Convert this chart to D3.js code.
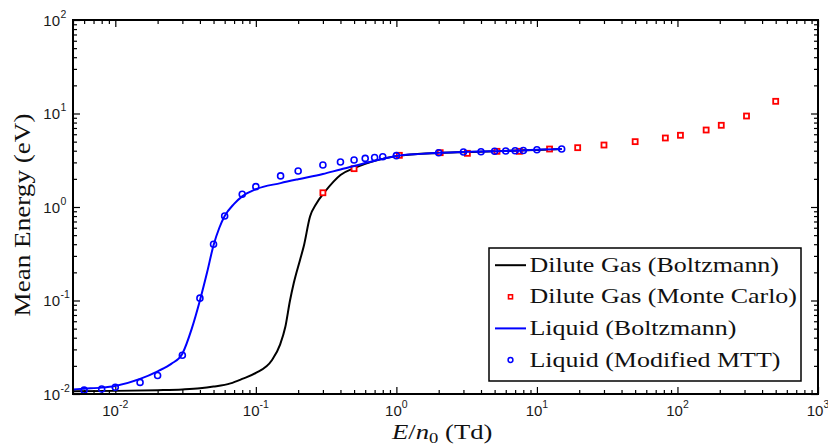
<!DOCTYPE html>
<html>
<head>
<meta charset="utf-8">
<script src="https://cdn.jsdelivr.net/npm/d3@7"></script>
<style>
  body { margin: 0; background: #fff; }
  svg { display: block; }
</style>
</head>
<body>
<svg id="chart" width="828" height="446"></svg>
<script>
// Dilute gas, Boltzmann solution (E/n0 in Td, mean energy in eV)
const gasBoltzE = [0.005, 0.01, 0.02, 0.03, 0.04, 0.05, 0.066, 0.08, 0.1, 0.13, 0.149,
  0.162, 0.175, 0.186, 0.206, 0.219, 0.243, 0.27, 0.306, 0.357, 0.4, 0.5, 0.6, 0.77, 1.0,
  2, 3, 5, 10, 15];
const gasBoltzEnergy = [0.0107, 0.0108, 0.011, 0.0112, 0.0115, 0.012, 0.013, 0.0145, 0.0168, 0.023, 0.034,
  0.052, 0.10, 0.153, 0.27, 0.377, 0.79, 1.09, 1.42, 1.87, 2.2, 2.6, 2.9, 3.23, 3.5,
  3.78, 3.86, 3.94, 4.08, 4.16];

// Dilute gas, Monte Carlo
const gasMcE = [0.3, 0.5, 1.05, 2.05, 3.2, 5.2, 7.5, 12.3, 19.5, 30, 50, 82, 105, 160, 205, 310, 500];
const gasMcEnergy = [1.42, 2.57, 3.57, 3.81, 3.75, 3.94, 3.94, 4.17, 4.31, 4.6, 5.0, 5.47, 5.85, 6.66, 7.48, 9.4, 13.5];

// Liquid, Boltzmann solution
const liqBoltzE = [0.005, 0.006, 0.008, 0.01, 0.015, 0.02, 0.025, 0.03, 0.035, 0.04, 0.045, 0.05,
  0.055, 0.06, 0.07, 0.08, 0.1, 0.15, 0.2, 0.3, 0.4, 0.5, 0.6, 0.7, 0.8, 1.0, 1.5,
  2, 3, 4, 5, 6, 7, 8, 10, 15];
const liqBoltzEnergy = [0.0112, 0.0114, 0.0117, 0.0122, 0.0145, 0.0175, 0.021, 0.027, 0.05, 0.10, 0.2, 0.39,
  0.6, 0.8, 1.08, 1.3, 1.55, 1.8, 1.98, 2.25, 2.52, 2.74, 2.95, 3.12, 3.27, 3.52, 3.70,
  3.80, 3.87, 3.92, 3.95, 3.98, 4.0, 4.03, 4.10, 4.17];

// Liquid, modified momentum-transfer theory
const liqMttE = [0.006, 0.008, 0.01, 0.015, 0.02, 0.03, 0.04, 0.05, 0.06, 0.08, 0.1, 0.15, 0.2,
  0.3, 0.4, 0.5, 0.6, 0.7, 0.8, 1.0, 2, 3, 4, 5, 6, 7, 8, 10, 15];
const liqMttEnergy = [0.011, 0.0113, 0.0118, 0.0133, 0.0158, 0.026, 0.106, 0.40, 0.80, 1.37, 1.65, 2.15, 2.43,
  2.81, 3.03, 3.18, 3.31, 3.39, 3.45, 3.54, 3.81, 3.87, 3.9, 3.94, 3.97, 4.0, 4.02, 4.1, 4.17];

// Axis ranges and tick exponents
const xDomain = [0.005, 1000];
const yDomain = [0.01, 100];
const xTickExps = [-2, -1, 0, 1, 2, 3];
const yTickExps = [-2, -1, 0, 1, 2];

const legendLabels = ["Dilute Gas (Boltzmann)", "Dilute Gas (Monte Carlo)",
  "Liquid (Boltzmann)", "Liquid (Modified MTT)"];

const W = 828, H = 446;
const m = { left: 73, right: 10, top: 20, bottom: 52 };
const svg = d3.select("#chart");

const x = d3.scaleLog().domain(xDomain).range([m.left, W - m.right]);
const y = d3.scaleLog().domain(yDomain).range([H - m.bottom, m.top]);
const x0 = m.left, x1 = W - m.right, y0 = H - m.bottom, y1 = m.top;

const isDecade = v => Math.abs(Math.log10(v) - Math.round(Math.log10(v))) < 1e-9;
const xAll = x.ticks(), yAll = y.ticks();
const xMajor = xAll.filter(isDecade), xMinor = xAll.filter(v => !isDecade(v));
const yMajor = yAll.filter(isDecade), yMinor = yAll.filter(v => !isDecade(v));

const SERIF = "'Liberation Serif', 'Times New Roman', serif";
const SANS = "'Liberation Sans', Arial, sans-serif";
const STRETCH = 1.18;
function widen(sel, k = STRETCH) {
  sel.each(function () {
    const w = this.getComputedTextLength();
    this.setAttribute("textLength", (w * k).toFixed(1));
    this.setAttribute("lengthAdjust", "spacingAndGlyphs");
  });
}

// ---- ticks (inward, on all four sides) ----
function drawAxis(axisFn, pos, values, size) {
  const g = svg.append("g").attr("transform", pos)
    .call(axisFn.tickValues(values).tickSize(size).tickFormat(""));
  g.select(".domain").remove();
  g.selectAll("line").attr("stroke", "#000").attr("stroke-width", 1.2);
}
drawAxis(d3.axisBottom(x), `translate(0,${y0})`, xMajor, -7);
drawAxis(d3.axisBottom(x), `translate(0,${y0})`, xMinor, -4);
drawAxis(d3.axisTop(x), `translate(0,${y1})`, xMajor, -7);
drawAxis(d3.axisTop(x), `translate(0,${y1})`, xMinor, -4);
drawAxis(d3.axisLeft(y), `translate(${x0},0)`, yMajor, -7);
drawAxis(d3.axisLeft(y), `translate(${x0},0)`, yMinor, -4);
drawAxis(d3.axisRight(y), `translate(${x1},0)`, yMajor, -7);
drawAxis(d3.axisRight(y), `translate(${x1},0)`, yMinor, -4);

// ---- tick labels: 10 with superscript exponent ----
const xl = svg.append("g").attr("font-family", SANS).attr("fill", "#1a1a1a");
xTickExps.forEach(e => {
  const t = xl.append("text").attr("x", x(Math.pow(10, e))).attr("y", y0 + 22)
    .attr("text-anchor", "middle").attr("font-size", 15);
  t.append("tspan").text("10");
  t.append("tspan").attr("dy", -8).attr("font-size", 10.5).text(String(e));
});
const yl = svg.append("g").attr("font-family", SANS).attr("fill", "#1a1a1a");
yTickExps.forEach(e => {
  yl.append("text").attr("x", 60).attr("y", y(Math.pow(10, e)) + 5.5)
    .attr("text-anchor", "end").attr("font-size", 15).text("10");
  yl.append("text").attr("x", 60.5).attr("y", y(Math.pow(10, e)) - 2.5)
    .attr("font-size", 10.5).text(String(e));
});

// ---- series ----
const line = d3.line().x(d => x(d[0])).y(d => y(d[1])).curve(d3.curveMonotoneX);
const zip = (a, b) => a.map((v, i) => [v, b[i]]);

svg.append("path").datum(zip(gasBoltzE, gasBoltzEnergy))
  .attr("d", line).attr("fill", "none").attr("stroke", "#000").attr("stroke-width", 2);

const sq = 5;
svg.append("g").selectAll("rect").data(zip(gasMcE, gasMcEnergy)).join("rect")
  .attr("x", d => x(d[0]) - sq / 2).attr("y", d => y(d[1]) - sq / 2)
  .attr("width", sq).attr("height", sq)
  .attr("fill", "#fff").attr("stroke", "#ff0000").attr("stroke-width", 1.8);

svg.append("path").datum(zip(liqBoltzE, liqBoltzEnergy))
  .attr("d", line).attr("fill", "none").attr("stroke", "#0000ff").attr("stroke-width", 2);

svg.append("g").selectAll("circle").data(zip(liqMttE, liqMttEnergy)).join("circle")
  .attr("cx", d => x(d[0])).attr("cy", d => y(d[1])).attr("r", 3)
  .attr("fill", "none").attr("stroke", "#0000ff").attr("stroke-width", 1.6);

// ---- frame ----
svg.append("rect").attr("x", x0).attr("y", y1).attr("width", x1 - x0).attr("height", y0 - y1)
  .attr("fill", "none").attr("stroke", "#000").attr("stroke-width", 2);

// ---- axis titles ----
const xt = svg.append("text").attr("x", 392).attr("y", 438.5)
  .attr("font-family", SERIF).attr("font-size", 21.5).attr("fill", "#111");
xt.append("tspan").attr("font-style", "italic").text("E");
xt.append("tspan").text("/");
xt.append("tspan").attr("font-style", "italic").text("n");
xt.append("tspan").attr("font-size", 15).attr("dy", 4).text("0");
xt.append("tspan").attr("dy", -4).text(" (Td)");
widen(xt, 1.24);

const yt = svg.append("text")
  .attr("transform", `translate(30,${(y0 + y1) / 2 + 8}) rotate(-90)`)
  .attr("text-anchor", "middle")
  .attr("font-family", SERIF).attr("font-size", 23).attr("fill", "#111")
  .text("Mean Energy (eV)");
widen(yt);

// ---- legend ----
const lg = svg.append("g");
lg.append("rect").attr("x", 489).attr("y", 248).attr("width", 312).attr("height", 133)
  .attr("fill", "#fff").attr("stroke", "#000").attr("stroke-width", 1.5);
const rowY = i => 271.7 + i * 31.6;
legendLabels.forEach((label, i) => {
  const cy = rowY(i) - 6.5;
  if (i === 0 || i === 2) {
    lg.append("line").attr("x1", 495).attr("x2", 526).attr("y1", cy).attr("y2", cy)
      .attr("stroke", i === 0 ? "#000" : "#0000ff").attr("stroke-width", 2);
  } else if (i === 1) {
    lg.append("rect").attr("x", 508.5).attr("y", cy - 2).attr("width", 4).attr("height", 4)
      .attr("fill", "#fff").attr("stroke", "#ff0000").attr("stroke-width", 1.6);
  } else {
    lg.append("circle").attr("cx", 510.5).attr("cy", cy).attr("r", 2.4)
      .attr("fill", "none").attr("stroke", "#0000ff").attr("stroke-width", 1.5);
  }
  const t = lg.append("text").attr("x", 529.5).attr("y", rowY(i))
    .attr("font-family", SERIF).attr("font-size", 22).attr("fill", "#111").text(label);
  widen(t);
});
</script>
</body>
</html>
